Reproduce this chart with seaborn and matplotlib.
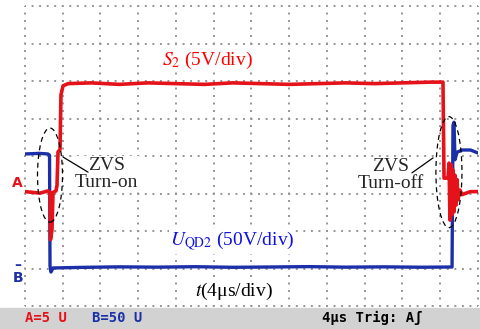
import numpy as np
import matplotlib.pyplot as plt
import seaborn as sns
from matplotlib.patches import Ellipse, Rectangle

# Scope settings
time_per_div = 4.0      # us/div
volt_per_div_a = 5.0    # V/div, channel A (S2)
volt_per_div_b = 50.0   # V/div, channel B (UQD2)
offset_a = 3.03         # ground marker of channel A, in divisions
offset_b = 1.0          # ground marker of channel B, in divisions
n_xdiv, n_ydiv = 12, 8

# Channel A: gate signal S2 (time in us, volts)
t_a = [0.0, 1.6, 2.44, 2.65, 2.70, 2.86, 2.97, 3.28, 3.39, 3.50, 3.71, 3.81, 4.03, 4.56,
       7.0, 10.0, 13.0, 16.0, 19.0, 22.0, 25.0, 28.0, 31.0, 34.0, 37.0, 40.0, 43.0, 44.29,
       44.40, 44.82, 44.93, 45.03, 45.14, 45.25, 45.35, 45.46, 45.56, 45.67, 45.78, 45.88,
       46.09, 46.3, 47.2, 48.0]
v_a = [0.1, -0.1, 0.2, 0.0, -6.3, -5.0, 0.0, 0.2, 0.9, 5.4, 5.7, 13.0, 14.2, 14.5,
       14.6, 14.4, 14.6, 14.5, 14.4, 14.6, 14.5, 14.4, 14.5, 14.6, 14.5, 14.6, 14.7, 14.7,
       1.9, 1.9, 3.9, -3.7, 3.7, -3.0, 3.0, -2.6, 2.3, -1.7, 1.7, -1.0,
       0.3, -0.3, 0.1, 0.1]

# Channel B: switch voltage UQD2 (time in us, volts)
t_b = [0.0, 1.5, 2.44, 2.60, 2.65, 2.75, 2.97, 6.0, 10.0, 14.0, 18.0, 22.0, 26.0, 30.0,
       34.0, 38.0, 42.0, 45.25, 45.35, 45.46, 45.56, 45.78, 46.3, 47.2, 48.0]
v_b = [152.7, 153.5, 152.7, 151.0, 3.3, -4.7, 0.7, 1.5, 2.2, 1.8, 2.4, 1.6, 2.0, 2.5,
       1.8, 2.2, 1.7, 2.0, 191.0, 195.0, 145.0, 155.0, 158.0, 158.0, 154.0]

sns.set_style('white')
plt.rcParams['font.family'] = ['Liberation Serif', 'DejaVu Serif']
plt.rcParams['mathtext.fontset'] = 'stix'

W, H, dpi = 481, 329, 100
fig = plt.figure(figsize=(W / dpi, H / dpi), dpi=dpi)
ax = fig.add_axes([25 / W, 23 / H, 453 / W, 300 / H])

# traces in divisions
ya = [offset_a + v / volt_per_div_a for v in v_a]
yb = [offset_b + v / volt_per_div_b for v in v_b]
sns.lineplot(x=t_b, y=yb, ax=ax, color='#1b2fa8', lw=2.4, sort=False, estimator=None, zorder=3)
sns.lineplot(x=t_a, y=ya, ax=ax, color='#e5121a', lw=2.6, sort=False, estimator=None, zorder=4)

ax.set_xlim(0, n_xdiv * time_per_div)
ax.set_ylim(0, n_ydiv)
ax.set_xticks(np.arange(0, n_xdiv + 1) * time_per_div)
ax.set_yticks(np.arange(0, n_ydiv + 1))
ax.tick_params(length=0, labelbottom=False, labelleft=False)
for s in ax.spines.values():
    s.set_visible(False)

# dotted graticule: 5 dots per division
lw = 1.4
px_per_pt = dpi / 72
xdot = (453 / n_xdiv / 5) / px_per_pt / lw
ydot = (300 / n_ydiv / 5) / px_per_pt / lw
ax.grid(False)
for t in ax.get_xticks():
    ax.axvline(t, color='#959595', lw=lw, ls=(0.5, (1, ydot - 1)), zorder=1, clip_on=False)
for y in ax.get_yticks():
    ax.axhline(y, color='#959595', lw=lw, ls=(0.5, (1, xdot - 1)), zorder=1, clip_on=False)

# channel markers
mk = dict(fontsize=10, fontweight='bold', family='DejaVu Sans', ha='center', va='center', clip_on=False)
ax.text(-0.85, offset_a + 0.25, 'A', color='#e5121a', **mk)
ax.text(-0.7, offset_b - 0.25, 'B', color='#1b2fa8', **mk)
ax.text(-0.75, offset_b + 0.1, '\u2013', color='#1b2fa8', **mk)

# labels
box = dict(facecolor='white', edgecolor='none', pad=0.5)
ax.text(4.82 * time_per_div, 6.56, r'$S_2$ (5V/div)', color='#ff0000', fontsize=14,
        ha='center', va='center', bbox=box, zorder=2)
ax.text(5.49 * time_per_div, 1.71, r'$U_{\mathrm{QD2}}$ (50V/div)', color='#1010e8', fontsize=14,
        ha='center', va='center', bbox=box, zorder=2)
ax.text(5.54 * time_per_div, 0.4, r'$t$(4μs/div)', color='black', fontsize=14,
        ha='center', va='center', bbox=box, zorder=2)

# ZVS annotations
ax.text(2.15 * time_per_div, 3.52, 'ZVS\nTurn-on', fontsize=14, ha='center', va='center',
        linespacing=1.0, bbox=box, zorder=2)
ax.text(9.68 * time_per_div, 3.5, 'ZVS\nTurn-off', fontsize=14, ha='center', va='center',
        linespacing=1.0, bbox=box, zorder=2)
ax.plot([1.67 * time_per_div, 1.01 * time_per_div], [3.57, 3.97], color='black', lw=0.9, zorder=5)
ax.plot([10.25 * time_per_div, 10.81 * time_per_div], [3.55, 3.95], color='black', lw=0.9, zorder=5)
ax.add_patch(Ellipse((0.662 * time_per_div, 3.49), 0.662 * time_per_div, 2.51, fill=False,
                     ls=(0, (4, 3)), lw=0.9, color='black', zorder=5))
ax.add_patch(Ellipse((11.23 * time_per_div, 3.57), 0.69 * time_per_div, 2.96, fill=False,
                     ls=(0, (4, 3)), lw=0.9, color='black', zorder=5))

# status bar
fig.add_artist(Rectangle((0, 0), 1, 21 / H, transform=fig.transFigure, color='#d2d2d2', zorder=0))
yb_txt = 11 / H
st = dict(fontsize=10, fontweight='bold', family='DejaVu Sans Mono', va='center')
fig.text(25 / W, yb_txt, 'A=5 U', color='#e5121a', **st)
fig.text(92 / W, yb_txt, 'B=50 U', color='#1b2fa8', **st)
fig.text(322 / W, yb_txt, '4μs Trig: A\u0283', color='black', **st)

fig.savefig('out.png', dpi=dpi)
